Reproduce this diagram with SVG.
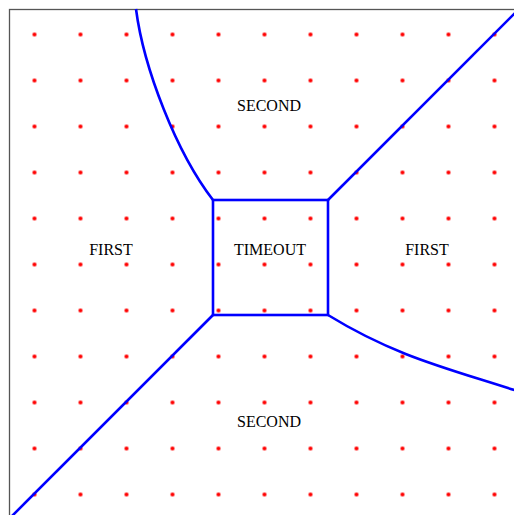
<svg xmlns="http://www.w3.org/2000/svg" width="514" height="515" viewBox="0 0 514 515">
<defs>
<style>
.dot{fill:#ff0000}
.b{fill:none;stroke:#0000ff;stroke-width:2.6;stroke-linejoin:miter}
.t{font-family:"Liberation Serif","Times New Roman",serif;font-size:16px;fill:#000;text-anchor:middle}
</style>
<pattern id="dots" x="11.5" y="11.5" width="46" height="46" patternUnits="userSpaceOnUse">
<circle class="dot" cx="23" cy="23" r="2.1"/>
</pattern>
</defs>
<rect x="0" y="0" width="514" height="515" fill="#fff"/>
<rect x="9.5" y="9.5" width="520" height="520" fill="none" stroke="#555" stroke-width="1.3"/>
<rect id="grid" x="11.5" y="11.5" width="506" height="506" fill="url(#dots)"/>
<g id="connectors">
<path class="b" d="M213,200 C176.4,152.6 143.7,68.4 136,9"/>
<path class="b" d="M328,200 L516,12"/>
<path class="b" d="M213,315 L7,521"/>
<path class="b" d="M328,315 C395.5,356.5 447.5,368.3 516,390.6"/>
</g>
<g id="timeout">
<rect class="b" x="213" y="200" width="115" height="115"/>
<text class="t" x="270" y="255">TIMEOUT</text>
</g>
<g id="second-top"><text class="t" x="269" y="111">SECOND</text></g>
<g id="first-left"><text class="t" x="111" y="255">FIRST</text></g>
<g id="first-right"><text class="t" x="427" y="255">FIRST</text></g>
<g id="second-bottom"><text class="t" x="269" y="427">SECOND</text></g>
</svg>
